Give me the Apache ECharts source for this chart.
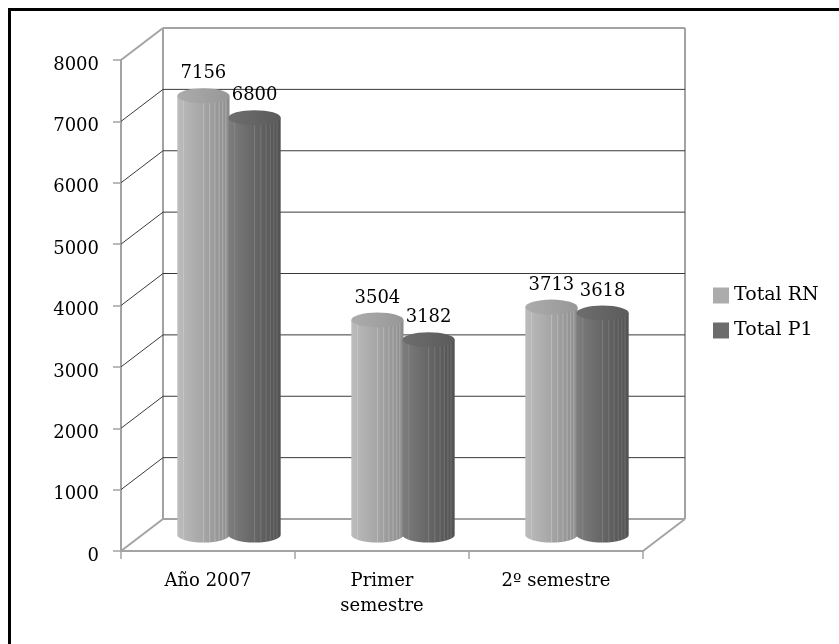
<!DOCTYPE html>
<html>
<head>
<meta charset="utf-8">
<script src="https://cdn.jsdelivr.net/npm/echarts@6/dist/echarts.min.js"></script>
<style>
  html, body { margin: 0; padding: 0; background: #fff; }
  #chart { width: 839px; height: 644px; }
</style>
</head>
<body>
<div id="chart"></div>
<script>
const categories = ['Año 2007', 'Primer\nsemestre', '2º semestre'];
const totalRN = [7156, 3504, 3713];
const totalP1 = [6800, 3182, 3618];
const yTicks = [0, 1000, 2000, 3000, 4000, 5000, 6000, 7000, 8000];

const depthX = 42;
const depthY = 32;
const serif = "'DejaVu Serif', serif";
const edgeGray = '#a3a3a3';

function frameItem(params, api) {
  let v = api.value(1);
  let cs = params.coordSys;
  let y = api.coord([0, v])[1];
  let x0 = cs.x, x1 = cs.x + cs.width;
  let isEdge = v === yTicks[0] || v === yTicks[yTicks.length - 1];
  let color = isEdge ? edgeGray : '#3a3a3a';
  let lw = isEdge ? 2 : 1;
  let children = [
    { type: 'line', shape: { x1: x0, y1: y, x2: x0 + depthX, y2: y - depthY }, style: { stroke: color, lineWidth: lw } },
    { type: 'line', shape: { x1: x0 + depthX, y1: y - depthY, x2: x1 + depthX, y2: y - depthY }, style: { stroke: color, lineWidth: lw } }
  ];
  if (v === yTicks[0]) {
    let yTop = cs.y;
    children.push(
      { type: 'line', shape: { x1: x1, y1: y, x2: x1 + depthX, y2: y - depthY }, style: { stroke: edgeGray, lineWidth: 2 } },
      { type: 'line', shape: { x1: x0 + depthX, y1: y - depthY, x2: x0 + depthX, y2: yTop - depthY }, style: { stroke: edgeGray, lineWidth: 2 } },
      { type: 'line', shape: { x1: x1 + depthX, y1: y - depthY, x2: x1 + depthX, y2: yTop - depthY }, style: { stroke: edgeGray, lineWidth: 2 } }
    );
  }
  return { type: 'group', children: children };
}

function cylinderItem(offset, tone) {
  return function (params, api) {
    let cat = api.value(0), val = api.value(1);
    let band = api.size([1, 0])[0];
    let top = api.coord([cat, val]);
    let base = api.coord([cat, 0]);
    let cx = top[0] + offset * band + depthX / 2;
    let ty = top[1] - depthY / 2;
    let by = base[1] - depthY / 2;
    let rx = band * 0.15, ry = 7.5;
    let L = cx - rx, R = cx + rx;

    let body = 'M' + L + ',' + ty + ' L' + L + ',' + by +
      ' A' + rx + ' ' + ry + ' 0 0 0 ' + R + ',' + by +
      ' L' + R + ',' + ty + ' Z';
    let cap = 'M' + L + ',' + ty +
      ' A' + rx + ' ' + ry + ' 0 1 1 ' + R + ',' + ty +
      ' A' + rx + ' ' + ry + ' 0 1 1 ' + L + ',' + ty + ' Z';

    let children = [
      {
        type: 'path',
        shape: { pathData: body },
        style: {
          fill: { type: 'linear', x: 0, y: 0, x2: 1, y2: 0, colorStops: tone.body }
        }
      }
    ];
    // vertical streaks of the rendered cylinder
    [0.12, 0.5, 0.62, 0.72, 0.8, 0.87, 0.93].forEach(f => {
      let x = L + f * 2 * rx;
      let u = (x - cx) / rx;
      let yb = by + ry * Math.sqrt(Math.max(0, 1 - u * u));
      children.push({
        type: 'line',
        shape: { x1: x, y1: ty, x2: x, y2: yb - 0.5 },
        style: { stroke: tone.streak, lineWidth: 0.8 }
      });
    });
    children.push({
      type: 'path',
      shape: { pathData: cap },
      style: {
        fill: { type: 'linear', x: 0, y: 0, x2: 1, y2: 0, colorStops: tone.cap }
      }
    });
    children.push({
      type: 'text',
      style: {
        text: String(val),
        x: cx,
        y: ty - 22,
        align: 'center',
        verticalAlign: 'middle',
        font: '18px ' + serif,
        fill: '#000'
      }
    });
    return { type: 'group', children: children };
  };
}

const toneRN = {
  body: [
    { offset: 0, color: '#bcbcbc' },
    { offset: 0.45, color: '#a8a8a8' },
    { offset: 1, color: '#8c8c8c' }
  ],
  cap: [
    { offset: 0, color: '#acacac' },
    { offset: 1, color: '#979797' }
  ],
  streak: 'rgba(220,220,220,0.5)'
};
const toneP1 = {
  body: [
    { offset: 0, color: '#7d7d7d' },
    { offset: 0.45, color: '#686868' },
    { offset: 1, color: '#525252' }
  ],
  cap: [
    { offset: 0, color: '#6e6e6e' },
    { offset: 1, color: '#5b5b5b' }
  ],
  streak: 'rgba(170,170,170,0.4)'
};

let chart = echarts.init(document.querySelector('#chart'));

let option = {
  backgroundColor: '#fff',
  animation: false,
  graphic: [
    {
      type: 'polyline',
      shape: { points: [[9.5, 644], [9.5, 9.5], [839, 9.5]] },
      style: { stroke: '#000', lineWidth: 3, fill: null }
    }
  ],
  legend: {
    orient: 'vertical',
    left: 713,
    top: 286,
    padding: 0,
    itemWidth: 16,
    itemHeight: 16,
    itemGap: 16,
    icon: 'rect',
    textStyle: { fontFamily: serif, fontSize: 19, color: '#000' },
    data: ['Total RN', 'Total P1']
  },
  grid: {
    left: 121,
    top: 60,
    right: 196,
    bottom: 93
  },
  xAxis: {
    type: 'category',
    data: categories,
    axisLine: { show: true, lineStyle: { color: edgeGray, width: 2 } },
    axisTick: { show: true, length: 8, lineStyle: { color: edgeGray, width: 1.5 } },
    axisLabel: {
      color: '#000',
      fontFamily: serif,
      fontSize: 18,
      lineHeight: 25,
      margin: 18
    },
    splitLine: { show: false }
  },
  yAxis: {
    type: 'value',
    min: 0,
    max: 8000,
    interval: 1000,
    axisLine: { show: true, lineStyle: { color: edgeGray, width: 2 } },
    axisTick: { show: true, length: 8, lineStyle: { color: edgeGray, width: 1.5 } },
    axisLabel: {
      color: '#000',
      fontFamily: serif,
      fontSize: 18,
      margin: 22,
      verticalAlign: 'top',
      lineHeight: 10,
      formatter: v => String(v)
    },
    splitLine: { show: false }
  },
  series: [
    {
      name: 'frame',
      type: 'custom',
      z: 1,
      silent: true,
      renderItem: frameItem,
      encode: { x: 0, y: 1 },
      data: yTicks.map(v => [0, v])
    },
    {
      name: 'Total RN',
      type: 'custom',
      z: 3,
      itemStyle: { color: '#acacac' },
      renderItem: cylinderItem(-0.147, toneRN),
      encode: { x: 0, y: 1 },
      data: totalRN.map((v, i) => [i, v])
    },
    {
      name: 'Total P1',
      type: 'custom',
      z: 4,
      itemStyle: { color: '#6c6c6c' },
      renderItem: cylinderItem(0.147, toneP1),
      encode: { x: 0, y: 1 },
      data: totalP1.map((v, i) => [i, v])
    }
  ]
};

chart.setOption(option);
</script>
</body>
</html>
